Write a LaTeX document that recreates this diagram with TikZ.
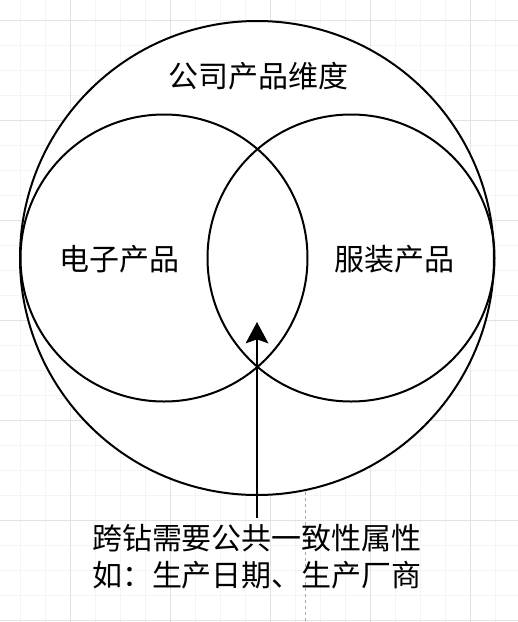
\documentclass[tikz,border=0pt]{standalone}
\usepackage{fontspec}
\setmainfont{Noto Sans CJK SC}
\usetikzlibrary{calc,arrows.meta}
\tikzset{>={Stealth[length=16pt,width=17pt,inset=3pt]}}
\definecolor{gridmajor}{HTML}{E2E2E2}
\definecolor{gridminor}{HTML}{F4F4F4}

\begin{document}
\begin{tikzpicture}[x=0.75pt,y=-0.75pt,
    ring/.style={black,line width=1.5pt},
    label/.style={font=\fontsize{22.5pt}{27.75pt}\selectfont,inner sep=0pt},
    guide/.style={black!35,dashed,dash pattern=on 2.25pt off 2.25pt,line width=0.6pt}]
      \useasboundingbox (0,0) rectangle (518,622);

      % background grid
      \foreach \g in {20,45,...,495} \draw[gridminor,line width=0.75pt] (\g,0) -- (\g,622);
      \foreach \g in {20,45,...,620} \draw[gridminor,line width=0.75pt] (0,\g) -- (518,\g);
      \foreach \g in {70,170,...,470} \draw[gridmajor,line width=0.75pt] (\g,0) -- (\g,622);
      \foreach \g in {20,120,...,620} \draw[gridmajor,line width=0.75pt] (0,\g) -- (518,\g);
      \draw[guide] (305,492) -- (305,622);

      \coordinate (C) at (257,258);
      \coordinate (L) at (164,258);
      \coordinate (R) at (351,258);
      \draw[ring,fill=white] (C) circle (237);
      \draw[ring] (L) circle (143.5);
      \draw[ring] (R) circle (143.5);

      \node[label] (company) at (258,76) {公司产品维度};
      \node[label] (elec) at (120,259) {电子产品};
      \node[label] (cloth) at (394,259) {服装产品};
      \node[label,align=center,inner ysep=5pt] (note) at (257,557) {跨钻需要公共一致性属性\\如：生产日期、生产厂商};

      \coordinate (tip) at (257,322);
      \draw[->,line width=1.5pt] (note.north) -- (tip);
    \end{tikzpicture}
\end{document}
